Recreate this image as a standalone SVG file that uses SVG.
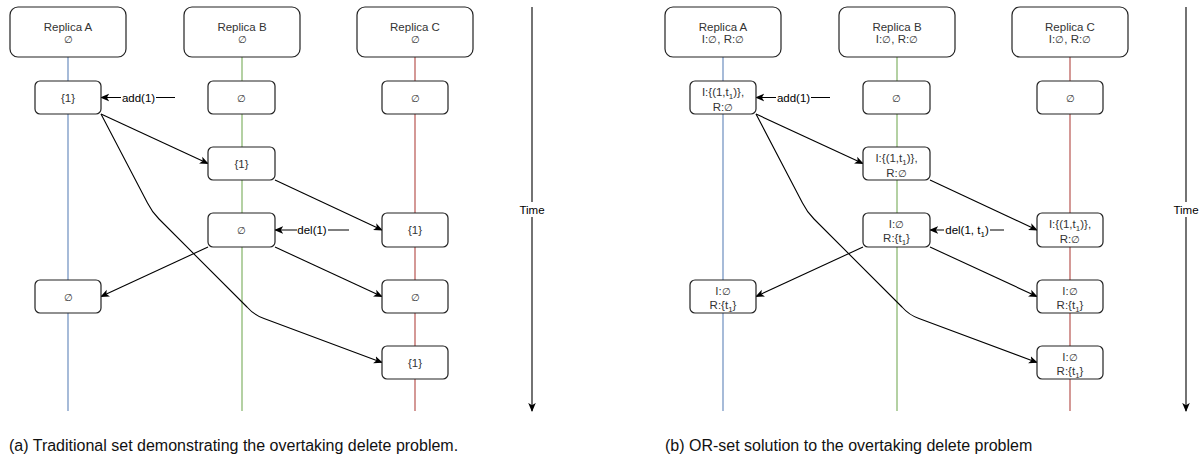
<svg xmlns="http://www.w3.org/2000/svg" width="1203" height="458" viewBox="0 0 1203 458">
<style>
text{font-family:"Liberation Sans",Arial,sans-serif;font-size:11.5px;fill:#333;text-anchor:middle}
.e{font-size:9.5px}
.hdr{fill:#fff;stroke:#222;stroke-width:1.2}
.box{fill:#fff;stroke:#222;stroke-width:1.2}
.edge{fill:none;stroke:#000;stroke-width:1.1}
.lbl{fill:#000}
.cap{font-size:16px;fill:#111;text-anchor:start}
.blue{stroke:#6c8ebf;stroke-width:1.2}
.green{stroke:#82b366;stroke-width:1.2}
.red{stroke:#b85450;stroke-width:1.2}
.bg{fill:#fff}
</style>
<defs>
<marker id="arr" viewBox="0 0 10 10" refX="9" refY="5" markerWidth="9" markerHeight="9" markerUnits="userSpaceOnUse" orient="auto">
<path d="M0,0.8 L10,5 L0,9.2 L2.5,5 z" fill="#000"/>
</marker>
</defs>
<rect width="1203" height="458" fill="#fff"/>

<g id="lifelines">
<line class="blue" x1="68" y1="57" x2="68" y2="411"/>
<line class="green" x1="242" y1="57" x2="242" y2="411"/>
<line class="red" x1="415" y1="57" x2="415" y2="411"/>
<line class="blue" x1="723" y1="57" x2="723" y2="411"/>
<line class="green" x1="897" y1="57" x2="897" y2="411"/>
<line class="red" x1="1070" y1="57" x2="1070" y2="411"/>
</g>

<g id="connectors">
<line class="edge" x1="532" y1="7" x2="532" y2="411" marker-end="url(#arr)"/>
<line class="edge" x1="1186" y1="7" x2="1186" y2="411" marker-end="url(#arr)"/>
<line class="edge" x1="175" y1="97.5" x2="101" y2="97.5" marker-end="url(#arr)"/>
<line class="edge" x1="349" y1="230" x2="275" y2="230" marker-end="url(#arr)"/>
<line class="edge" x1="101" y1="114" x2="208" y2="163.5" marker-end="url(#arr)"/>
<line class="edge" x1="275" y1="180" x2="382" y2="230" marker-end="url(#arr)"/>
<line class="edge" x1="208" y1="247" x2="101" y2="296.5" marker-end="url(#arr)"/>
<line class="edge" x1="275" y1="247" x2="382" y2="296.5" marker-end="url(#arr)"/>
<path class="edge" d="M101,114 L147.5,203 Q152,212 159,219 L247,307 Q254,315 264,318.5 L382,362.5" marker-end="url(#arr)"/>
<line class="edge" x1="830" y1="97.5" x2="756" y2="97.5" marker-end="url(#arr)"/>
<line class="edge" x1="1004" y1="230" x2="930" y2="230" marker-end="url(#arr)"/>
<line class="edge" x1="756" y1="114" x2="863" y2="163.5" marker-end="url(#arr)"/>
<line class="edge" x1="930" y1="180" x2="1037" y2="230" marker-end="url(#arr)"/>
<line class="edge" x1="863" y1="247" x2="756" y2="296.5" marker-end="url(#arr)"/>
<line class="edge" x1="930" y1="247" x2="1037" y2="296.5" marker-end="url(#arr)"/>
<path class="edge" d="M756,114 L802.5,203 Q807,212 814,219 L902,307 Q909,315 919,318.5 L1037,362.5" marker-end="url(#arr)"/>
<rect class="bg" x="121" y="90" width="35" height="15"/>
<text class="lbl" x="138.5" y="101.5">add(1)</text>
<rect class="bg" x="297" y="222" width="31" height="15"/>
<text class="lbl" x="312" y="234">del(1)</text>
<rect class="bg" x="518" y="202" width="28" height="15"/>
<text class="lbl" x="532" y="214">Time</text>
<rect class="bg" x="776" y="90" width="35" height="15"/>
<text class="lbl" x="793.5" y="101.5">add(1)</text>
<rect class="bg" x="944" y="222" width="46" height="17"/>
<text class="lbl" x="967" y="234">del(1, t<tspan font-size="8" dy="3">1</tspan><tspan dy="-3">)</tspan></text>
<rect class="bg" x="1172" y="202" width="28" height="15"/>
<text class="lbl" x="1186" y="214">Time</text>
</g>

<g id="a-head"><rect class="hdr" x="10" y="7" width="116" height="50" rx="8"/><text x="68" y="31">Replica A</text><text x="68" y="43" class="e">∅</text></g>
<g id="b-head"><rect class="hdr" x="184" y="7" width="116" height="50" rx="8"/><text x="242" y="31">Replica B</text><text x="242" y="43" class="e">∅</text></g>
<g id="c-head"><rect class="hdr" x="357" y="7" width="116" height="50" rx="8"/><text x="415" y="31">Replica C</text><text x="415" y="43" class="e">∅</text></g>

<g id="a1"><rect class="box" x="35" y="81" width="66" height="33" rx="5"/><text x="68" y="101.5">{1}</text></g>
<g id="b1"><rect class="box" x="208" y="81" width="67" height="33" rx="5"/><text x="241.5" y="101.5" class="e">∅</text></g>
<g id="c1"><rect class="box" x="382" y="81" width="66" height="33" rx="5"/><text x="415" y="101.5" class="e">∅</text></g>
<g id="b2"><rect class="box" x="208" y="147" width="67" height="33" rx="5"/><text x="241.5" y="167.5">{1}</text></g>
<g id="b3"><rect class="box" x="208" y="213" width="67" height="34" rx="5"/><text x="241.5" y="234" class="e">∅</text></g>
<g id="c3"><rect class="box" x="382" y="213" width="66" height="34" rx="5"/><text x="415" y="234">{1}</text></g>
<g id="a4"><rect class="box" x="35" y="280" width="66" height="33" rx="5"/><text x="68" y="300.5" class="e">∅</text></g>
<g id="c4"><rect class="box" x="382" y="280" width="66" height="33" rx="5"/><text x="415" y="300.5" class="e">∅</text></g>
<g id="c5"><rect class="box" x="382" y="346" width="66" height="33" rx="5"/><text x="415" y="366.5">{1}</text></g>

<g id="ra-head"><rect class="hdr" x="665" y="7" width="116" height="50" rx="8"/><text x="723" y="31">Replica A</text><text x="723" y="43">I:<tspan class="e">∅</tspan>, R:<tspan class="e">∅</tspan></text></g>
<g id="rb-head"><rect class="hdr" x="839" y="7" width="116" height="50" rx="8"/><text x="897" y="31">Replica B</text><text x="897" y="43">I:<tspan class="e">∅</tspan>, R:<tspan class="e">∅</tspan></text></g>
<g id="rc-head"><rect class="hdr" x="1012" y="7" width="116" height="50" rx="8"/><text x="1070" y="31">Replica C</text><text x="1070" y="43">I:<tspan class="e">∅</tspan>, R:<tspan class="e">∅</tspan></text></g>

<g id="ra1"><rect class="box" x="690" y="81" width="66" height="33" rx="5"/><text x="723" y="95.5">I:{(1,t<tspan font-size="8" dy="3">1</tspan><tspan dy="-3">)},</tspan></text><text x="723" y="110.5">R:<tspan class="e">∅</tspan></text></g>
<g id="rb1"><rect class="box" x="863" y="81" width="67" height="33" rx="5"/><text x="896.5" y="101.5" class="e">∅</text></g>
<g id="rc1"><rect class="box" x="1037" y="81" width="66" height="33" rx="5"/><text x="1070" y="101.5" class="e">∅</text></g>
<g id="rb2"><rect class="box" x="863" y="147" width="67" height="33" rx="5"/><text x="896.5" y="161.5">I:{(1,t<tspan font-size="8" dy="3">1</tspan><tspan dy="-3">)},</tspan></text><text x="896.5" y="176.5">R:<tspan class="e">∅</tspan></text></g>
<g id="rb3"><rect class="box" x="863" y="213" width="67" height="34" rx="5"/><text x="896.5" y="227.5">I:<tspan class="e">∅</tspan></text><text x="896.5" y="241.5">R:{t<tspan font-size="8" dy="3">1</tspan><tspan dy="-3">}</tspan></text></g>
<g id="rc3"><rect class="box" x="1037" y="213" width="66" height="34" rx="5"/><text x="1070" y="227.5">I:{(1,t<tspan font-size="8" dy="3">1</tspan><tspan dy="-3">)},</tspan></text><text x="1070" y="242.5">R:<tspan class="e">∅</tspan></text></g>
<g id="ra4"><rect class="box" x="690" y="280" width="66" height="33" rx="5"/><text x="723" y="294.5">I:<tspan class="e">∅</tspan></text><text x="723" y="308.5">R:{t<tspan font-size="8" dy="3">1</tspan><tspan dy="-3">}</tspan></text></g>
<g id="rc4"><rect class="box" x="1037" y="280" width="66" height="33" rx="5"/><text x="1070" y="294.5">I:<tspan class="e">∅</tspan></text><text x="1070" y="308.5">R:{t<tspan font-size="8" dy="3">1</tspan><tspan dy="-3">}</tspan></text></g>
<g id="rc5"><rect class="box" x="1037" y="346" width="66" height="33" rx="5"/><text x="1070" y="360.5">I:<tspan class="e">∅</tspan></text><text x="1070" y="374.5">R:{t<tspan font-size="8" dy="3">1</tspan><tspan dy="-3">}</tspan></text></g>

<g id="captions">
<text class="cap" x="9" y="451">(a) Traditional set demonstrating the overtaking delete problem.</text>
<text class="cap" x="665" y="451">(b) OR-set solution to the overtaking delete problem</text>
</g>
</svg>
